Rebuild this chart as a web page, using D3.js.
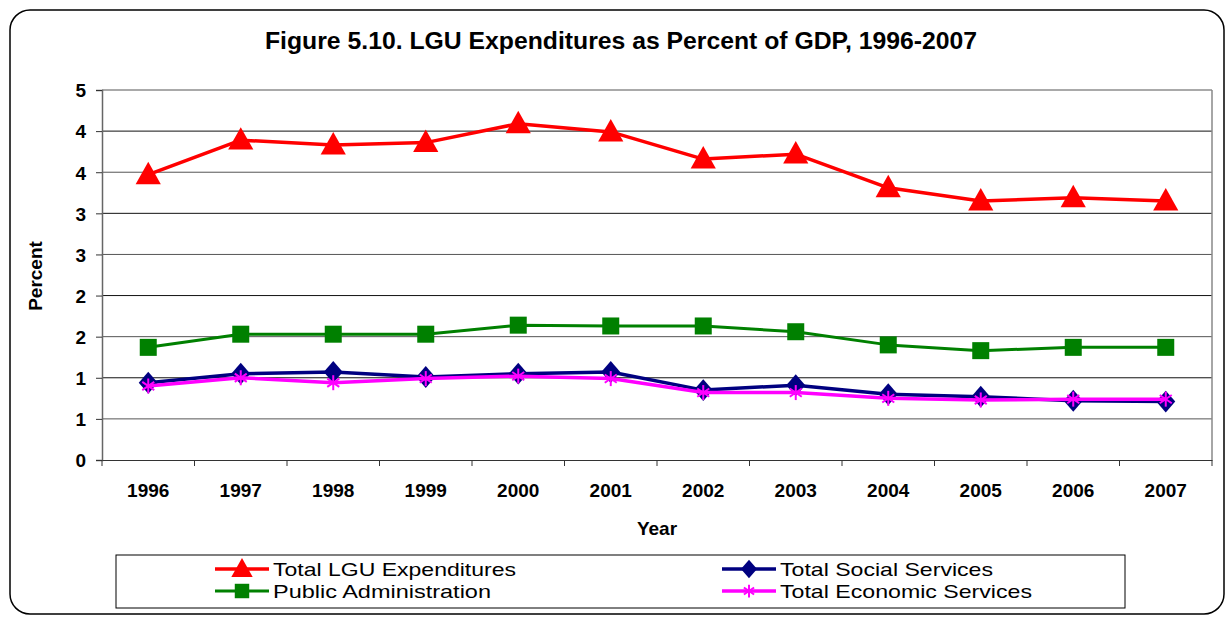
<!DOCTYPE html>
<html>
<head>
<meta charset="utf-8">
<script src="https://cdn.jsdelivr.net/npm/d3@7/dist/d3.min.js"></script>
<style>
  html, body { margin: 0; padding: 0; background: #fff; }
  svg { display: block; font-family: "Liberation Sans", Arial, sans-serif; }
</style>
</head>
<body>
<svg id="chart" width="1228" height="617"></svg>
<script>
// Years on the category axis
const years = ["1996","1997","1998","1999","2000","2001","2002","2003","2004","2005","2006","2007"];

// Expenditures as percent of GDP
const totalLGU   = [3.47, 3.89, 3.83, 3.86, 4.09, 3.99, 3.66, 3.72, 3.31, 3.15, 3.19, 3.15];
const publicAdm  = [1.37, 1.53, 1.53, 1.53, 1.64, 1.63, 1.63, 1.56, 1.40, 1.33, 1.37, 1.37];
const socialSvc  = [0.94, 1.05, 1.07, 1.01, 1.05, 1.07, 0.85, 0.91, 0.80, 0.77, 0.72, 0.71];
const economicSvc= [0.90, 1.00, 0.94, 0.99, 1.02, 0.99, 0.82, 0.82, 0.75, 0.73, 0.74, 0.74];

// Value-axis ticks (labels are shown rounded to whole numbers)
const yTicks = [0, 0.5, 1, 1.5, 2, 2.5, 3, 3.5, 4, 4.5];

const seriesNames = ["Total LGU Expenditures", "Public Administration", "Total Social Services", "Total Economic Services"];

const series = [
  { name: seriesNames[0], values: totalLGU,    color: "#FF0000", marker: "triangle", width: 3.5 },
  { name: seriesNames[1], values: publicAdm,   color: "#008000", marker: "square",   width: 3 },
  { name: seriesNames[2], values: socialSvc,   color: "#000080", marker: "diamond",  width: 3.5 },
  { name: seriesNames[3], values: economicSvc, color: "#FF00FF", marker: "star",     width: 3.5 }
];

const svg = d3.select("#chart");

// Outer rounded frame
svg.append("rect")
  .attr("x", 10).attr("y", 10).attr("width", 1214).attr("height", 604)
  .attr("rx", 20).attr("ry", 20)
  .attr("fill", "#fff").attr("stroke", "#000").attr("stroke-width", 1.5);

// Title
svg.append("text")
  .attr("x", 621).attr("y", 49)
  .attr("text-anchor", "middle")
  .attr("font-weight", "bold").attr("font-size", 23)
  .attr("textLength", 712).attr("lengthAdjust", "spacingAndGlyphs")
  .text("Figure 5.10. LGU Expenditures as Percent of GDP, 1996-2007");

const plot = { left: 102, right: 1212, top: 90, bottom: 460 };

const x = d3.scaleBand().domain(years).range([plot.left, plot.right]);
const y = d3.scaleLinear().domain([0, 4.5]).range([plot.bottom, plot.top]);

// Horizontal gridlines
svg.append("g").selectAll("line")
  .data(yTicks.filter(d => d > 0))
  .join("line")
  .attr("x1", plot.left).attr("x2", plot.right)
  .attr("y1", d => y(d)).attr("y2", d => y(d))
  .attr("stroke", (d, i) => i % 2 === 0 ? "#555" : "#111")
  .attr("stroke-width", 1);

// Right plot border
svg.append("line")
  .attr("x1", plot.right).attr("x2", plot.right)
  .attr("y1", plot.top).attr("y2", plot.bottom)
  .attr("stroke", "#888").attr("stroke-width", 1.5);

// Y axis
const yAxis = d3.axisLeft(y)
  .tickValues(yTicks)
  .tickSize(6)
  .tickPadding(10)
  .tickFormat(d => String(Math.round(d)));
const gy = svg.append("g").attr("transform", `translate(${plot.left},0)`).call(yAxis);
gy.select(".domain").attr("stroke", "#666").attr("stroke-width", 1.5);
gy.selectAll(".tick line").attr("stroke", "#333");
gy.selectAll(".tick text")
  .attr("font-family", "Liberation Sans, Arial, sans-serif")
  .attr("font-size", 19).attr("font-weight", "bold").attr("fill", "#000")
  .attr("dy", "0.36em");

// X axis with ticks on category boundaries
const xAxis = d3.axisBottom(x).tickSize(0).tickPadding(24);
const gx = svg.append("g").attr("transform", `translate(0,${plot.bottom})`).call(xAxis);
gx.select(".domain").attr("stroke", "#333").attr("stroke-width", 1);
gx.selectAll(".tick text")
  .attr("font-family", "Liberation Sans, Arial, sans-serif")
  .attr("font-size", 19).attr("font-weight", "bold").attr("fill", "#000");
gx.selectAll(".boundary")
  .data(years.concat(["end"]))
  .join("line")
  .attr("class", "boundary")
  .attr("x1", (d, i) => plot.left + i * x.bandwidth())
  .attr("x2", (d, i) => plot.left + i * x.bandwidth())
  .attr("y1", 0).attr("y2", 6)
  .attr("stroke", "#333");

// Axis titles
svg.append("text")
  .attr("x", (plot.left + plot.right) / 2).attr("y", 535)
  .attr("text-anchor", "middle")
  .attr("font-weight", "bold").attr("font-size", 19)
  .text("Year");

svg.append("text")
  .attr("transform", "translate(42,276) rotate(-90)")
  .attr("text-anchor", "middle")
  .attr("font-weight", "bold").attr("font-size", 19)
  .text("Percent");

// Marker drawing
function drawMarker(g, type, color, size) {
  if (type === "triangle") {
    const s = size;
    g.append("path")
      .attr("d", `M0,${-s * 0.62} L${s * 0.6},${s * 0.45} L${-s * 0.6},${s * 0.45} Z`)
      .attr("fill", color);
  } else if (type === "square") {
    g.append("rect")
      .attr("x", -size / 2).attr("y", -size / 2)
      .attr("width", size).attr("height", size)
      .attr("fill", color);
  } else if (type === "diamond") {
    const s = size / 2;
    g.append("path")
      .attr("d", `M0,${-s * 1.15} L${s},0 L0,${s * 1.15} L${-s},0 Z`)
      .attr("fill", color);
  } else if (type === "star") {
    const s = size / 2;
    const lines = [[0, -s, 0, s], [-s * 0.8, -s * 0.55, s * 0.8, s * 0.55], [-s * 0.8, s * 0.55, s * 0.8, -s * 0.55]];
    lines.forEach(l => g.append("line")
      .attr("x1", l[0]).attr("y1", l[1]).attr("x2", l[2]).attr("y2", l[3])
      .attr("stroke", color).attr("stroke-width", 2));
  }
}

const markerSize = { triangle: 21, square: 17, diamond: 19, star: 15 };

const line = d3.line()
  .x((d, i) => x(years[i]) + x.bandwidth() / 2)
  .y(d => y(d));

series.forEach(s => {
  const g = svg.append("g");
  g.append("path")
    .datum(s.values)
    .attr("d", line)
    .attr("fill", "none")
    .attr("stroke", s.color)
    .attr("stroke-width", s.width)
    .attr("stroke-linejoin", "round");
  g.selectAll("g.mk")
    .data(s.values)
    .join("g")
    .attr("class", "mk")
    .attr("transform", (d, i) => `translate(${x(years[i]) + x.bandwidth() / 2},${y(d)})`)
    .each(function () { drawMarker(d3.select(this), s.marker, s.color, markerSize[s.marker]); });
});

// Legend
const legend = svg.append("g");
legend.append("rect")
  .attr("x", 116).attr("y", 555).attr("width", 1009).attr("height", 53)
  .attr("fill", "#fff").attr("stroke", "#000").attr("stroke-width", 1);

const legendPos = [
  { x: 215, y: 569, w: 243 },
  { x: 215, y: 591, w: 218 },
  { x: 722, y: 569, w: 213 },
  { x: 722, y: 591, w: 252 }
];

series.forEach((s, i) => {
  const p = legendPos[i];
  const item = legend.append("g");
  item.append("line")
    .attr("x1", p.x).attr("x2", p.x + 54)
    .attr("y1", p.y).attr("y2", p.y)
    .attr("stroke", s.color).attr("stroke-width", s.width);
  const m = item.append("g").attr("transform", `translate(${p.x + 27},${p.y})`);
  drawMarker(m, s.marker, s.color, markerSize[s.marker] * 0.85);
  item.append("text")
    .attr("x", p.x + 58).attr("y", p.y + 6.5)
    .attr("font-size", 18.5)
    .attr("textLength", p.w).attr("lengthAdjust", "spacingAndGlyphs")
    .text(s.name);
});
</script>
</body>
</html>
